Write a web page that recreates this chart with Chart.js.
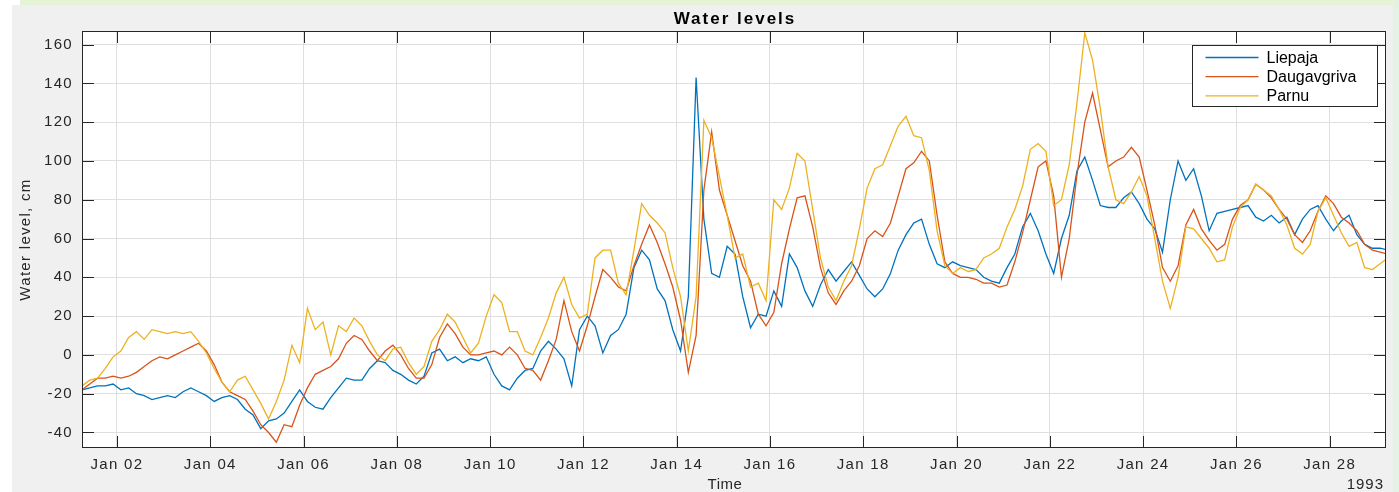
<!DOCTYPE html>
<html>
<head>
<meta charset="utf-8">
<title>Water levels</title>
<script src="https://cdn.jsdelivr.net/npm/chart.js@4.4.1/dist/chart.umd.min.js"></script>
<style>
  html, body { margin: 0; padding: 0; background: #ffffff; width: 1399px; height: 492px; overflow: hidden; }
  #figure { position: absolute; left: 12px; top: 5px; width: 1381px; height: 487px; background: #f0f0f0; }
  #bandTop { position: absolute; left: 20px; top: 0; width: 1379px; height: 5px; background: #e5f4d6; }
  #bandRight { position: absolute; left: 1393px; top: 0; width: 6px; height: 492px; background: #e2f3e4; }
  #holder { position: absolute; left: 0; top: 0; width: 1399px; height: 492px; }
</style>
</head>
<body>
<div id="figure"></div>
<div id="bandTop"></div>
<div id="bandRight"></div>
<div id="holder"><canvas id="chart" width="1399" height="492"></canvas></div>
<script>
// Hourly offsets are counted from 1993-01-01 00:00; one reading every 4 hours.
const startHour = 6;
const stepHours = 4;

// Sea level, cm. One row per day, starting at 06:00.
const liepaja = [
  -18, -17, -16, -16, -15, -18,
  -17, -20, -21, -23, -22, -21,
  -22, -19, -17, -19, -21, -24,
  -22, -21, -23, -28, -31, -38,
  -34, -33, -30, -24, -18, -24,
  -27, -28, -22, -17, -12, -13,
  -13, -7, -3, -4, -8, -10,
  -13, -15, -11, 1, 3, -3,
  -1, -4, -2, -3, -1, -10,
  -16, -18, -12, -8, -7, 2,
  7, 3, -2, -16, 13, 20,
  15, 1, 10, 13, 21, 45,
  54, 49, 34, 28, 13, 2,
  30, 143, 70, 42, 40, 56,
  52, 30, 14, 21, 20, 33,
  25, 52, 45, 33, 25, 36,
  44, 38, 43, 48, 41, 34,
  30, 34, 42, 54, 62, 68,
  70, 57, 47, 45, 48, 46,
  45, 44, 40, 38, 37, 45,
  52, 66, 73, 64, 52, 42,
  60, 72, 95, 102, 90, 77,
  76, 76, 81, 84, 78, 70,
  65, 53, 80, 100, 90, 96,
  82, 64, 73, 74, 75, 76,
  77, 71, 69, 72, 68, 71,
  62, 70, 75, 77, 70, 64,
  69, 72, 62, 57, 55, 55,
  54
];

const daugavgriva = [
  -18, -15, -12, -12, -11, -12,
  -11, -9, -6, -3, -1, -2,
  0, 2, 4, 6, 2, -5,
  -14, -19, -21, -23, -29, -36,
  -40, -45, -36, -37, -26, -17,
  -10, -8, -6, -2, 6, 10,
  8, 2, -3, 2, 5, 0,
  -7, -12, -12, -5, 9, 16,
  11, 4, 0, 0, 1, 2,
  0, 4, 0, -7, -8, -13,
  -3, 8, 28, 12, 2, 15,
  30, 44, 40, 35, 33, 46,
  57, 67, 58, 47, 35, 18,
  -9, 10, 85, 115, 85, 72,
  59, 46, 38, 21, 15, 22,
  47, 65, 81, 82, 66, 45,
  32, 26, 33, 38, 46, 60,
  64, 61, 68, 82, 96, 99,
  105, 100, 72, 48, 42, 40,
  40, 39, 37, 37, 35, 36,
  48, 63, 80, 97, 100, 82,
  40, 60, 93, 120, 135, 116,
  97, 100, 102, 107, 102, 85,
  67, 45, 38, 46, 67, 75,
  65, 59, 54, 57, 70, 77,
  80, 88, 85, 81, 75, 70,
  62, 58, 64, 74, 82, 78,
  71, 68, 64, 57, 54, 53,
  52
];

const parnu = [
  -16, -13, -12, -7, -1, 2,
  9, 12, 8, 13, 12, 11,
  12, 11, 12, 7, 1, -7,
  -14, -19, -13, -11, -18, -25,
  -33, -24, -13, 5, -4, 24,
  13, 17, 0, 15, 12, 19,
  15, 7, 0, -3, 3, 4,
  -4, -10, -6, 7, 13, 21,
  17, 9, 1, 6, 20, 31,
  27, 12, 12, 2, 0, 9,
  19, 32, 40, 26, 19, 21,
  50, 54, 54, 37, 31, 54,
  78, 72, 68, 63, 45, 30,
  2, 30, 121, 112, 92, 72,
  50, 52, 35, 37, 28, 80,
  75, 86, 104, 100, 75, 50,
  35, 28, 38, 46, 65, 86,
  96, 98, 108, 118, 123, 113,
  112, 95, 64, 46, 42, 45,
  43, 44, 50, 52, 55, 66,
  75, 87, 106, 109, 105, 77,
  80, 98, 130, 166, 152, 127,
  97, 80, 78, 84, 92, 82,
  60, 38, 24, 40, 66, 65,
  60, 55, 48, 49, 66, 76,
  80, 88, 85, 82, 75, 67,
  55, 52, 57, 74, 81, 72,
  63, 56, 58, 45, 44, 47,
  50
];

// Axis ticks and labels
const dayTickHours = [24, 72, 120, 168, 216, 264, 312, 360, 408, 456, 504, 552, 600, 648];
const dayTickLabels = ['Jan 02', 'Jan 04', 'Jan 06', 'Jan 08', 'Jan 10', 'Jan 12', 'Jan 14',
                       'Jan 16', 'Jan 18', 'Jan 20', 'Jan 22', 'Jan 24', 'Jan 26', 'Jan 28'];
const levelTicks = [-40, -20, 0, 20, 40, 60, 80, 100, 120, 140, 160];
const chartTitle = 'Water levels';
const timeAxisTitle = 'Time';
const levelAxisTitle = 'Water level, cm';
const yearLabel = '1993';

const FONT = '"Liberation Sans", Arial, Helvetica, sans-serif';
const INK = '#262626';

function toPoints(values) {
  return values.map((v, i) => ({ x: startHour + i * stepHours, y: v }));
}

// Plot box, inward tick marks, boxed legend, titles and the year note
const axesDecor = {
  id: 'axesDecor',
  beforeDraw(chart) {
    const { ctx, chartArea: a } = chart;
    ctx.save();
    ctx.fillStyle = '#ffffff';
    ctx.fillRect(a.left, a.top, a.right - a.left, a.bottom - a.top);
    ctx.restore();
    // axis text is set slightly wide
    ctx.letterSpacing = '1.3px';
  },
  beforeDatasetsDraw(chart) {
    chart.ctx.letterSpacing = '0px';
  },
  afterDatasetsDraw(chart) {
    const { ctx, chartArea: a, scales: { x, y } } = chart;
    ctx.save();
    ctx.strokeStyle = INK;
    ctx.lineWidth = 1;
    const tickLen = 12;
    ctx.beginPath();
    x.ticks.forEach(t => {
      const px = Math.round(x.getPixelForValue(t.value)) + 0.5;
      ctx.moveTo(px, a.bottom); ctx.lineTo(px, a.bottom - tickLen);
      ctx.moveTo(px, a.top); ctx.lineTo(px, a.top + tickLen);
    });
    y.ticks.forEach(t => {
      const py = Math.round(y.getPixelForValue(t.value)) + 0.5;
      ctx.moveTo(a.left, py); ctx.lineTo(a.left + tickLen, py);
      ctx.moveTo(a.right, py); ctx.lineTo(a.right - tickLen, py);
    });
    ctx.stroke();
    ctx.strokeRect(Math.round(a.left) + 0.5, Math.round(a.top) + 0.5,
                   Math.round(a.right - a.left) - 1, Math.round(a.bottom - a.top) - 1);

    // legend
    const boxW = 185, boxH = 61;
    const bx = Math.round(a.right - 9 - boxW) + 0.5;
    const by = Math.round(a.top + 14) + 0.5;
    ctx.fillStyle = '#ffffff';
    ctx.fillRect(bx, by, boxW, boxH);
    ctx.strokeStyle = INK;
    ctx.strokeRect(bx, by, boxW, boxH);
    ctx.font = '16px ' + FONT;
    ctx.textAlign = 'left';
    ctx.textBaseline = 'middle';
    chart.data.datasets.forEach((ds, k) => {
      const ly = by + 12 + k * 19.2;
      ctx.strokeStyle = ds.borderColor;
      ctx.lineWidth = ds.borderWidth;
      ctx.beginPath();
      ctx.moveTo(bx + 13, ly);
      ctx.lineTo(bx + 66, ly);
      ctx.stroke();
      ctx.fillStyle = '#000000';
      ctx.fillText(ds.label, bx + 74, ly + 1);
    });
    ctx.restore();
  },
  afterDraw(chart) {
    const { ctx, chartArea: a } = chart;
    const cx = (a.left + a.right) / 2;
    ctx.save();
    ctx.textBaseline = 'middle';
    ctx.textAlign = 'center';

    ctx.font = 'bold 17px ' + FONT;
    ctx.letterSpacing = '2px';
    ctx.fillStyle = '#000000';
    ctx.fillText(chartTitle, cx + 1, 19);

    ctx.font = '15px ' + FONT;
    ctx.letterSpacing = '0.5px';
    ctx.fillStyle = INK;
    ctx.fillText(timeAxisTitle, cx - 9, 485);

    ctx.letterSpacing = '1px';
    ctx.textAlign = 'right';
    ctx.fillText(yearLabel, a.right - 2, 485);
    ctx.restore();
  }
};

const chart = new Chart(document.getElementById('chart'), {
  type: 'line',
  data: {
    datasets: [
      { label: 'Liepaja', data: toPoints(liepaja), borderColor: '#0072BD', borderWidth: 1.3, order: 2 },
      { label: 'Daugavgriva', data: toPoints(daugavgriva), borderColor: '#D95319', borderWidth: 1.3, order: 1 },
      { label: 'Parnu', data: toPoints(parnu), borderColor: '#EDB120', borderWidth: 1.3, order: 0 }
    ]
  },
  options: {
    responsive: false,
    animation: false,
    devicePixelRatio: 1,
    elements: { point: { radius: 0 }, line: { tension: 0 } },
    layout: { padding: { left: 0, right: 13, top: 31, bottom: 0 } },
    scales: {
      x: {
        type: 'linear',
        min: 6,
        max: 677,
        afterBuildTicks: s => { s.ticks = dayTickHours.map(v => ({ value: v })); },
        afterFit: s => { s.height = 44; },
        ticks: {
          autoSkip: false, maxRotation: 0, padding: 8, color: INK,
          font: { family: FONT, size: 15 },
          callback: (v, i) => dayTickLabels[i]
        },
        grid: { color: '#dfdfdf', drawTicks: false, lineWidth: 1 },
        border: { display: false }
      },
      y: {
        type: 'linear',
        min: -48,
        max: 167,
        afterBuildTicks: s => { s.ticks = levelTicks.map(v => ({ value: v })); },
        afterFit: s => { s.width = 82; },
        ticks: {
          autoSkip: false, padding: 9, color: INK,
          font: { family: FONT, size: 15 },
          callback: v => String(v)
        },
        grid: { color: '#dfdfdf', drawTicks: false, lineWidth: 1 },
        border: { display: false },
        title: { display: true, text: levelAxisTitle, color: INK, font: { family: FONT, size: 15 }, padding: { top: 17, bottom: 0 } }
      }
    },
    plugins: {
      legend: { display: false },
      tooltip: { enabled: false },
      title: { display: false }
    }
  },
  plugins: [axesDecor]
});
</script>
</body>
</html>
